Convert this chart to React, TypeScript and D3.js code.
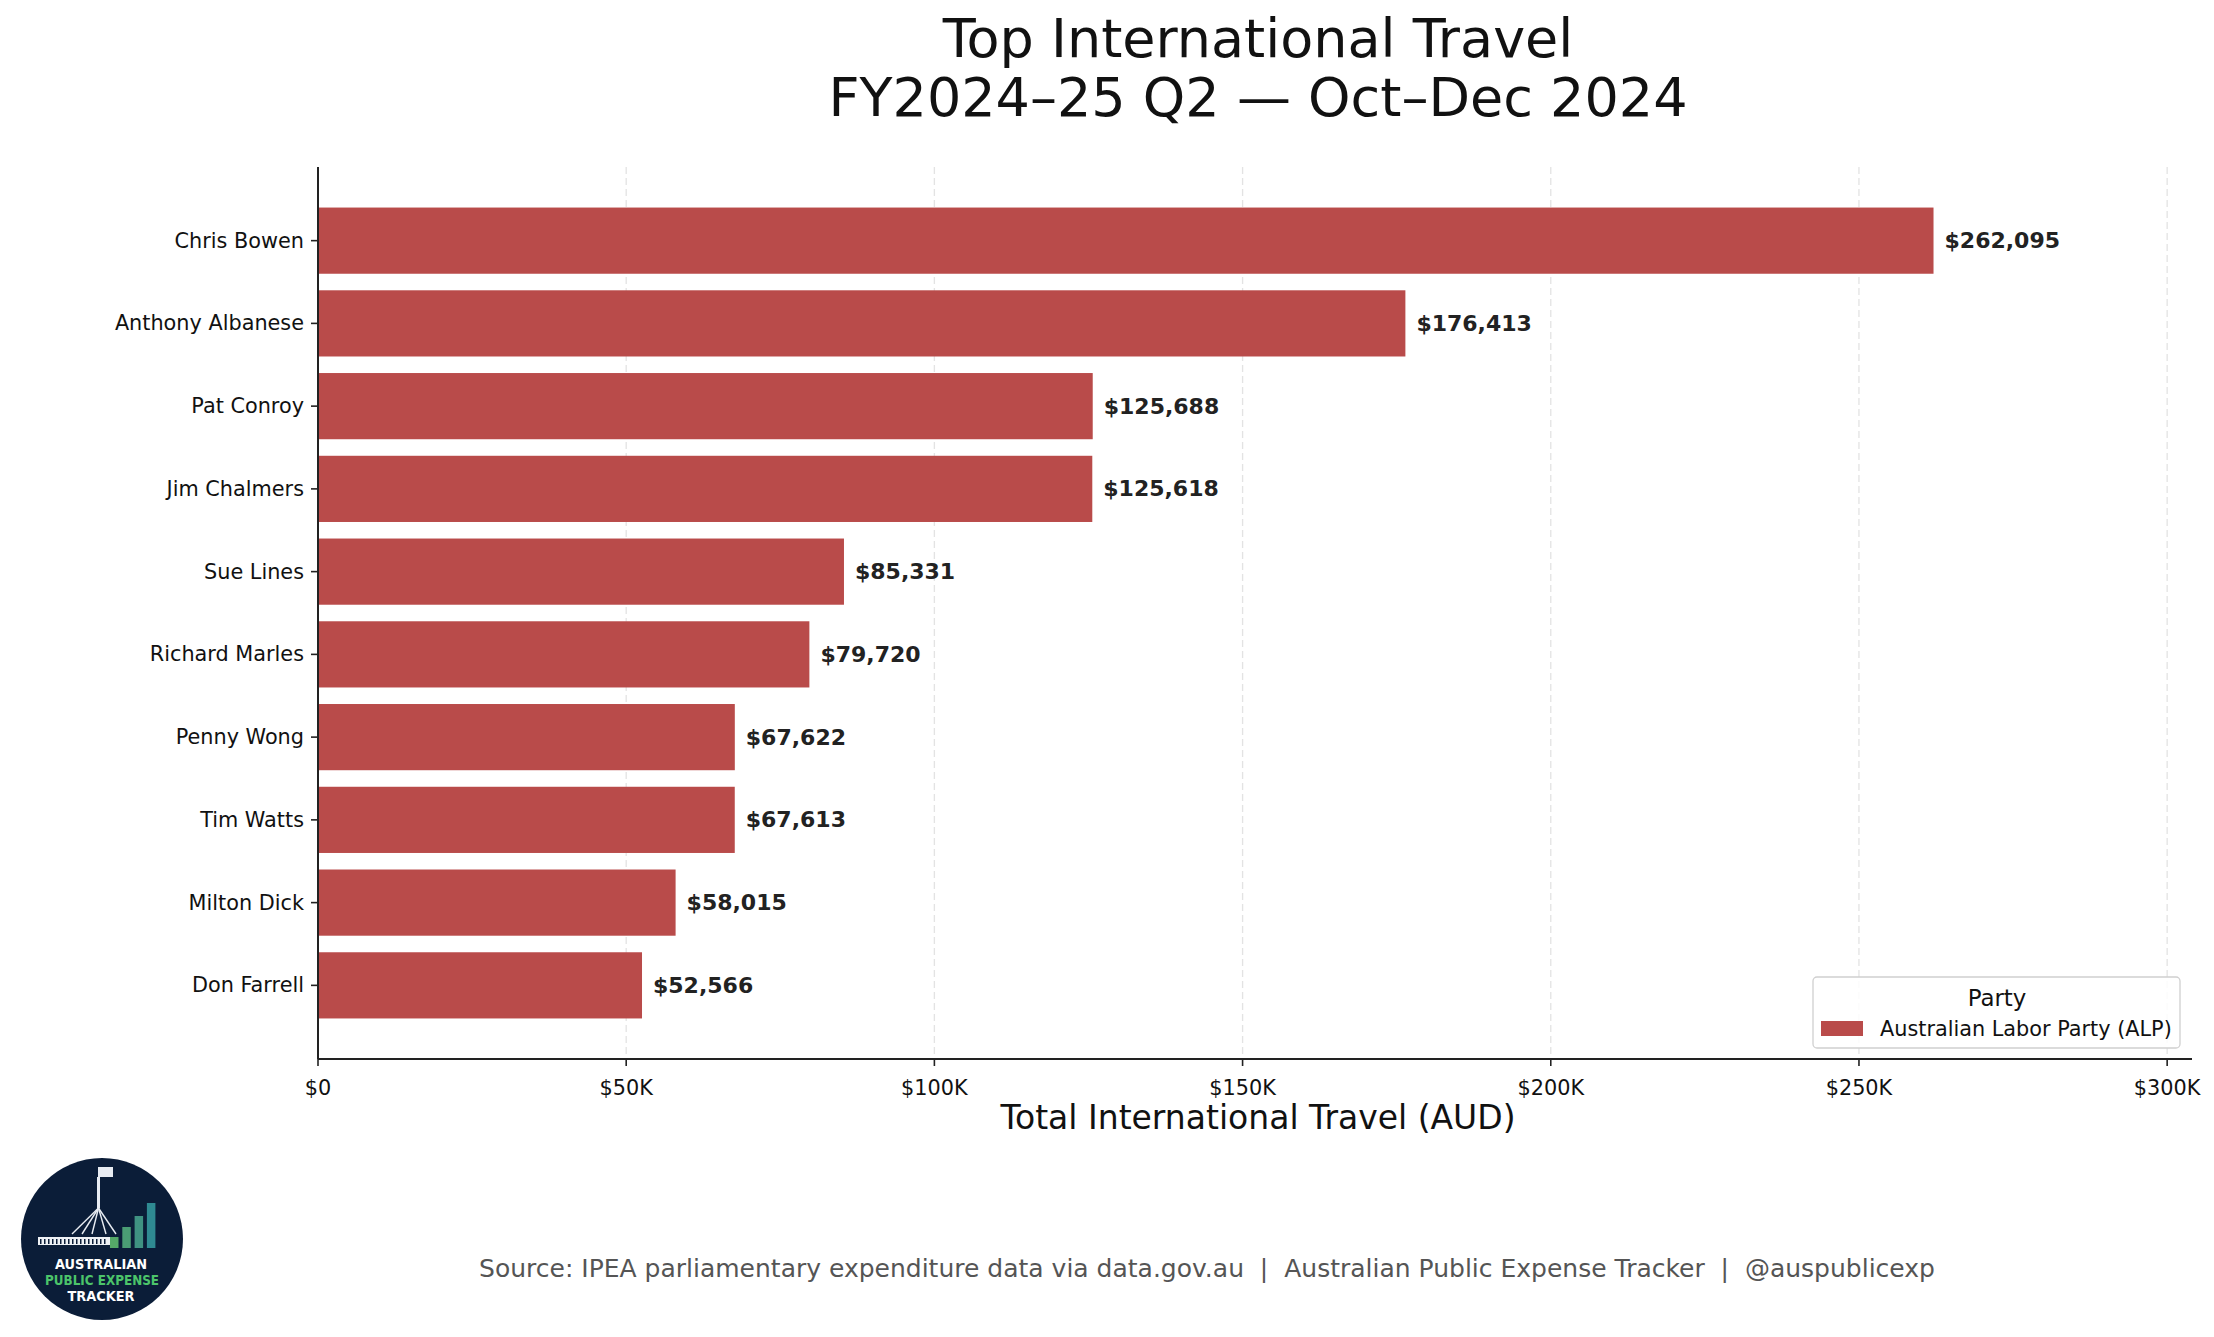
import React from 'react';
import * as d3 from 'd3';

const names = [
  'Chris Bowen',
  'Anthony Albanese',
  'Pat Conroy',
  'Jim Chalmers',
  'Sue Lines',
  'Richard Marles',
  'Penny Wong',
  'Tim Watts',
  'Milton Dick',
  'Don Farrell',
];
const travelTotals = [262095, 176413, 125688, 125618, 85331, 79720, 67622, 67613, 58015, 52566];
const xTickValues = [0, 50000, 100000, 150000, 200000, 250000, 300000];
const titleLines = ['Top International Travel', 'FY2024–25 Q2 — Oct–Dec 2024'];
const legendTitle = 'Party';
const legendLabel = 'Australian Labor Party (ALP)';
const xLabel = 'Total International Travel (AUD)';
const sourceText =
  'Source: IPEA parliamentary expenditure data via data.gov.au  |  Australian Public Expense Tracker  |  @auspublicexp';

const W = 2214;
const H = 1337;
const FONT = '"DejaVu Sans", Verdana, sans-serif';
const BAR = '#b94b4a';

function Logo() {
  // small badge bottom-left
  const barHeights = [11, 21, 32, 45];
  const barColors = ['#55a868', '#4a9d74', '#3f9282', '#2f8a92'];
  return (
    <g>
      <circle cx={102} cy={1239} r={81} fill="#0b1d38" />
      {/* flag + pole */}
      <rect x={98} y={1167} width={15} height={10} fill="#e8ecf2" />
      <rect x={97} y={1177} width={3} height={31} fill="#e8ecf2" />
      {[72, 82, 92, 106, 116].map((lx, i) => (
        <line key={i} x1={98.5} y1={1208} x2={lx} y2={1234} stroke="#e8ecf2" strokeWidth={1.4} />
      ))}
      {/* parliament building */}
      <rect x={38} y={1237} width={72} height={8} fill="#eef1f5" />
      {d3.range(40, 108, 4).map((bx) => (
        <rect key={bx} x={bx} y={1239} width={1.5} height={5} fill="#0b1d38" />
      ))}
      {barHeights.map((h, i) => (
        <rect key={i} x={110 + i * 12.3} y={1248 - h} width={8.5} height={h} fill={barColors[i]} />
      ))}
      <text x={101} y={1269} textAnchor="middle" fontFamily={FONT} fontWeight="bold" fontSize={14}
        fill="#ffffff" textLength={92} lengthAdjust="spacingAndGlyphs">AUSTRALIAN</text>
      <text x={102} y={1285} textAnchor="middle" fontFamily={FONT} fontWeight="bold" fontSize={14}
        fill="#4cc46a" textLength={114} lengthAdjust="spacingAndGlyphs">PUBLIC EXPENSE</text>
      <text x={101} y={1301} textAnchor="middle" fontFamily={FONT} fontWeight="bold" fontSize={14}
        fill="#ffffff" textLength={67} lengthAdjust="spacingAndGlyphs">TRACKER</text>
    </g>
  );
}

export default function App() {
  const left = 318;
  const right = 2192;
  const top = 167;
  const bottom = 1059;

  const x = d3.scaleLinear().domain([0, 262095 * 1.16]).range([left, right]);
  const y = d3.scaleBand<string>().domain(names).range([top, bottom]).paddingInner(0.2).paddingOuter(0.49);

  const fmtTick = (v: number) => (v === 0 ? '$0' : `$${v / 1000}K`);
  const fmtVal = d3.format('$,');

  return (
    <svg width={W} height={H} style={{ position: 'absolute', left: 0, top: 0, background: '#fff' }}>
      <rect width={W} height={H} fill="#fff" />

      {/* title */}
      {titleLines.map((t, i) => (
        <text key={i} x={1258} y={57 + i * 59} textAnchor="middle" fontFamily={FONT} fontSize={54} fill="#111">
          {t}
        </text>
      ))}

      {/* grid */}
      {xTickValues.map((v) => (
        <line key={v} x1={x(v)} x2={x(v)} y1={top} y2={bottom} stroke="#dddddd" strokeWidth={1.3}
          strokeDasharray="7,4" opacity={0.8} />
      ))}

      {/* bars */}
      {names.map((n, i) => (
        <g key={n}>
          <rect x={x(0)} y={y(n)} width={x(travelTotals[i]) - x(0)} height={y.bandwidth()} fill={BAR} />
          <text x={x(travelTotals[i]) + 11} y={(y(n) || 0) + y.bandwidth() / 2} dominantBaseline="central"
            fontFamily={FONT} fontWeight="bold" fontSize={22} fill="#222">
            {fmtVal(travelTotals[i])}
          </text>
          <line x1={left - 7} x2={left} y1={(y(n) || 0) + y.bandwidth() / 2} y2={(y(n) || 0) + y.bandwidth() / 2}
            stroke="#222" strokeWidth={1.6} />
          <text x={left - 14} y={(y(n) || 0) + y.bandwidth() / 2} dominantBaseline="central" textAnchor="end"
            fontFamily={FONT} fontSize={20.8} fill="#111">
            {n}
          </text>
        </g>
      ))}

      {/* axes */}
      <line x1={left} x2={left} y1={top} y2={bottom} stroke="#222" strokeWidth={2} />
      <line x1={left} x2={right} y1={bottom} y2={bottom} stroke="#222" strokeWidth={2} />
      {xTickValues.map((v) => (
        <g key={v}>
          <line x1={x(v)} x2={x(v)} y1={bottom} y2={bottom + 7} stroke="#222" strokeWidth={1.6} />
          <text x={x(v)} y={1088} dominantBaseline="central" textAnchor="middle" fontFamily={FONT}
            fontSize={20.8} fill="#111">
            {fmtTick(v)}
          </text>
        </g>
      ))}
      <text x={1258} y={1117} dominantBaseline="central" textAnchor="middle" fontFamily={FONT} fontSize={33} fill="#111">
        {xLabel}
      </text>

      {/* legend */}
      <rect x={1813} y={977} width={367} height={71} rx={4} fill="#fff" fillOpacity={0.85} stroke="#d0d0d0"
        strokeWidth={1.3} />
      <text x={1997} y={998} dominantBaseline="central" textAnchor="middle" fontFamily={FONT} fontSize={22.9}
        fill="#111">
        {legendTitle}
      </text>
      <rect x={1821} y={1021} width={42} height={15} fill={BAR} />
      <text x={1880} y={1029} dominantBaseline="central" fontFamily={FONT} fontSize={20.8} fill="#111">
        {legendLabel}
      </text>

      {/* footer */}
      <text x={1207} y={1268} dominantBaseline="central" textAnchor="middle" fontFamily={FONT} fontSize={25}
        fill="#555" style={{ whiteSpace: 'pre' }}>
        {sourceText}
      </text>
      <Logo />
    </svg>
  );
}
